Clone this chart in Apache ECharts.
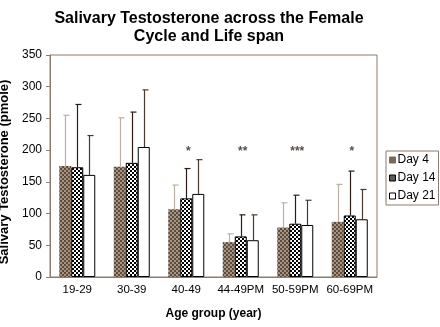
<!DOCTYPE html>
<html>
<head>
<meta charset="utf-8">
<script src="https://cdn.jsdelivr.net/npm/echarts@6/dist/echarts.min.js"></script>
<style>
  html, body { margin: 0; padding: 0; background: #fff; }
  #chart { width: 440px; height: 327px; }
</style>
</head>
<body>
<div id="chart"></div>
<script>
// Age groups (PM = post-menopausal)
const categories = ['19-29', '30-39', '40-49', '44-49PM', '50-59PM', '60-69PM'];
const seriesNames = ['Day 4', 'Day 14', 'Day 21'];

// Mean salivary testosterone (pmole) per cycle day
const day4 = [175, 174, 107, 55, 78, 87];
const day14 = [173, 180, 124, 64, 84, 97];
const day21 = [161, 205, 131, 58, 82, 91];

// Upper end of each error bar (mean + SD)
const day4Upper = [255, 251, 145, 68, 117, 146];
const day14Upper = [272, 260, 171, 98, 129, 167];
const day21Upper = [223, 295, 185, 98, 121, 138];

// Significance markers above each age group
const significance = ['', '', '*', '**', '***', '*'];
const markerLevel = 198;

const yTicks = { min: 0, max: 350, interval: 50 };

const axisColor = '#8c7c6c';
const font = 'Liberation Sans, Arial, sans-serif';

function pattern(draw, size) {
  const c = document.createElement('canvas');
  c.width = size; c.height = size;
  draw(c.getContext('2d'));
  return c;
}
// fine brown dither
const brownPat = pattern(ctx => {
  ctx.fillStyle = '#a69584'; ctx.fillRect(0, 0, 4, 4);
  ctx.fillStyle = '#5e4b3c';
  ctx.fillRect(0, 0, 2, 2); ctx.fillRect(2, 2, 2, 2);
}, 4);
// black/white checkerboard
const checkPat = pattern(ctx => {
  ctx.fillStyle = '#ffffff'; ctx.fillRect(0, 0, 4, 4);
  ctx.fillStyle = '#000000';
  ctx.fillRect(0, 0, 2, 2); ctx.fillRect(2, 2, 2, 2);
}, 4);

const fills = [
  { image: brownPat, repeat: 'repeat' },
  { image: checkPat, repeat: 'repeat' },
  '#ffffff'
];
const borders = [
  { borderColor: '#7a6858', borderWidth: 0 },
  { borderColor: '#000000', borderWidth: 1 },
  { borderColor: '#000000', borderWidth: 1 }
];
const legendColors = ['#7a6858', '#5a5a5a', '#ffffff'];
const errColors = ['#bcb0a4', '#2a1c14', '#4a3a2e'];

const means = [day4, day14, day21];
const uppers = [day4Upper, day14Upper, day21Upper];
const BAR_W = 12;

const barSeries = seriesNames.map((name, i) => ({
  name,
  type: 'bar',
  data: means[i],
  barWidth: BAR_W,
  barGap: '0%',
  itemStyle: Object.assign({ color: fills[i] }, borders[i]),
  z: 2
}));

const errorSeries = seriesNames.map((name, i) => ({
  name: name + ' SD',
  type: 'custom',
  data: means[i].map((m, k) => [k, m, uppers[i][k]]),
  z: 1,
  silent: true,
  renderItem: function (params, api) {
    const base = api.coord([api.value(0), api.value(1)]);
    const top = api.coord([api.value(0), api.value(2)]);
    const x = Math.round(base[0] + (i - 1) * BAR_W) + 0.5;
    const style = { stroke: errColors[i], lineWidth: 1.2 };
    return {
      type: 'group',
      children: [
        { type: 'line', shape: { x1: x, y1: base[1], x2: x, y2: top[1] }, style },
        { type: 'line', shape: { x1: x - 2, y1: top[1], x2: x + 4, y2: top[1] }, style }
      ]
    };
  }
}));

const markerSeries = {
  type: 'scatter',
  data: significance.map((s, k) => [k, markerLevel, s]),
  symbolSize: 0,
  silent: true,
  label: {
    show: true,
    position: 'inside',
    offset: [2, 0],
    formatter: p => p.value[2],
    fontFamily: font,
    fontWeight: 'bold',
    fontSize: 12,
    color: '#2a1c14'
  }
};

const chart = echarts.init(document.getElementById('chart'), null, { renderer: 'canvas' });
chart.setOption({
  animation: false,
  backgroundColor: '#ffffff',
  title: {
    text: 'Salivary Testosterone across the Female\nCycle and Life span',
    left: 204,
    textAlign: 'center',
    top: 5,
    textStyle: { fontFamily: font, fontWeight: 'bold', fontSize: 16, color: '#000', lineHeight: 18 }
  },
  grid: {
    left: 50, right: 63, top: 55, bottom: 50,
    outerBoundsMode: 'none',
    containLabel: false,
    show: true, borderColor: axisColor, borderWidth: 1
  },
  legend: {
    data: seriesNames.map((n, i) => ({ name: n, itemStyle: { color: legendColors[i], borderColor: i === 0 ? legendColors[0] : '#000', borderWidth: 1 } })),
    orient: 'vertical',
    left: 386,
    top: 151,
    itemWidth: 6,
    itemHeight: 6,
    itemGap: 6,
    padding: [3, 3, 3, 3],
    borderColor: axisColor,
    borderWidth: 1,
    icon: 'rect',
    textStyle: { fontFamily: font, fontSize: 12, color: '#000', padding: [0, 0, 0, -3] }
  },
  xAxis: {
    type: 'category',
    data: categories,
    name: 'Age group (year)',
    nameLocation: 'middle',
    nameGap: 31,
    nameTextStyle: { fontFamily: font, fontWeight: 'bold', fontSize: 12, color: '#000' },
    axisLine: { lineStyle: { color: axisColor } },
    axisTick: { length: 4, lineStyle: { color: axisColor } },
    axisLabel: { interval: 0, fontFamily: font, fontSize: 11.5, color: '#000', margin: 7 }
  },
  yAxis: {
    type: 'value',
    min: yTicks.min,
    max: yTicks.max,
    interval: yTicks.interval,
    name: 'Salivary Testosterone (pmole)',
    nameLocation: 'middle',
    nameGap: 30,
    nameTextStyle: { fontFamily: font, fontWeight: 'bold', fontSize: 13, color: '#000', padding: [0, 12, 0, 0] },
    axisLine: { show: true, lineStyle: { color: axisColor } },
    axisTick: { show: true, length: 4, lineStyle: { color: axisColor } },
    axisLabel: { fontFamily: font, fontSize: 12, color: '#000', margin: 8 },
    splitLine: { show: false }
  },
  series: [...barSeries, ...errorSeries, markerSeries]
});
</script>
</body>
</html>
